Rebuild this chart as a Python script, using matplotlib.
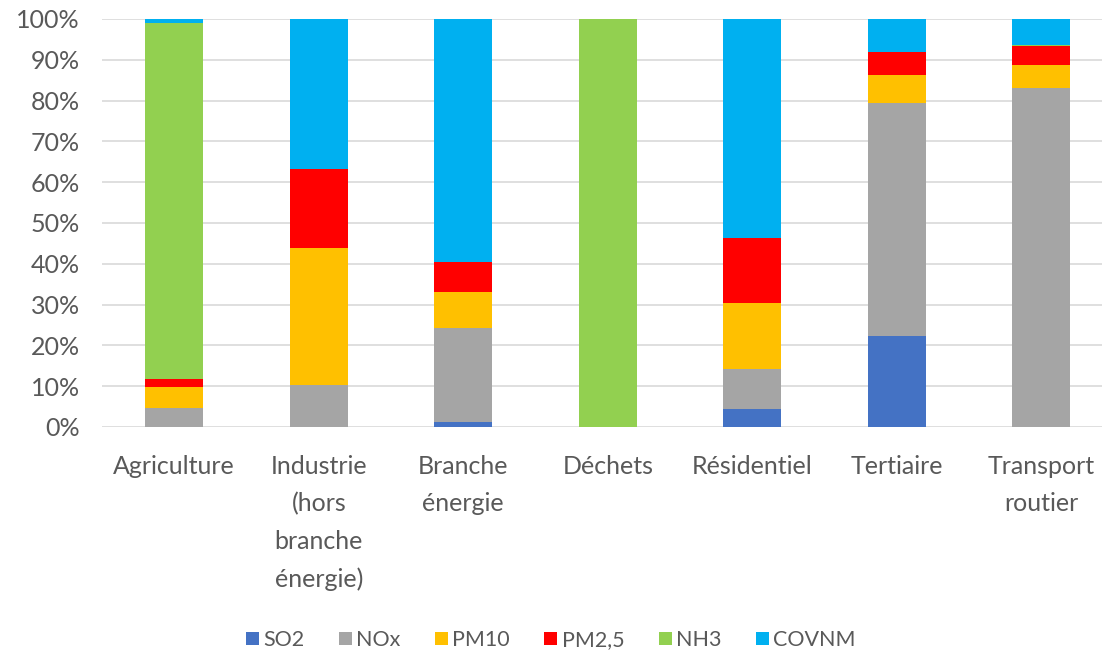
import numpy as np
import matplotlib.pyplot as plt
from matplotlib.ticker import PercentFormatter

# sectors and the share (%) of each pollutant
secteurs = ["Agriculture", "Industrie\n(hors\nbranche\nénergie)", "Branche\nénergie",
            "Déchets", "Résidentiel", "Tertiaire", "Transport\nroutier"]
so2 = [0.0, 0.0, 1.3, 0.0, 4.3, 22.4, 0.0]
nox = [4.6, 10.3, 22.9, 0.0, 9.9, 57.1, 83.0]
pm10 = [5.3, 33.6, 8.9, 0.0, 16.3, 6.7, 5.7]
pm25 = [1.8, 19.4, 7.4, 0.0, 15.9, 5.8, 4.6]
nh3 = [87.3, 0.0, 0.0, 100.0, 0.0, 0.0, 0.4]
covnm = [1.0, 36.7, 59.5, 0.0, 53.6, 8.0, 6.3]

series = [("SO2", so2, "#4472c4"), ("NOx", nox, "#a5a5a5"), ("PM10", pm10, "#ffc000"),
          ("PM2,5", pm25, "#ff0000"), ("NH3", nh3, "#92d050"), ("COVNM", covnm, "#00b0f0")]

plt.rcParams['font.family'] = ['Lato', 'DejaVu Sans']
txt = "#595959"

fig = plt.figure(figsize=(11.02, 6.61), dpi=100)
ax = fig.add_axes([102 / 1102, 1 - 427 / 661, 1 - 102 / 1102, 408 / 661])

x = np.arange(len(secteurs))
bottom = np.zeros(len(secteurs))
for name, vals, col in series:
    vals = np.array(vals)
    ax.bar(x, vals, 0.4, bottom=bottom, color=col, label=name, zorder=3)
    bottom += vals

ax.set_xlim(-0.5, 6.42)
ax.set_ylim(0, 100)
ax.set_yticks(range(0, 101, 10))
ax.yaxis.set_major_formatter(PercentFormatter(decimals=0))
ax.grid(axis='y', color="#d9d9d9", linewidth=1.2, zorder=0)
for s in ax.spines.values():
    s.set_visible(False)
ax.tick_params(length=0, labelsize=18, colors=txt)
ax.tick_params(axis='y', pad=16)
ax.tick_params(axis='x', pad=20)
ax.set_xticks(x)
ax.set_xticklabels(secteurs, linespacing=1.75, va='top')

fig.legend(loc='center', bbox_to_anchor=(0.5, 1 - 640 / 661), ncol=6, frameon=False,
           fontsize=15.5, labelcolor=txt, handlelength=0.6, handleheight=0.6,
           handletextpad=0.2, columnspacing=1.6)

fig.savefig("out.png", dpi=100)
